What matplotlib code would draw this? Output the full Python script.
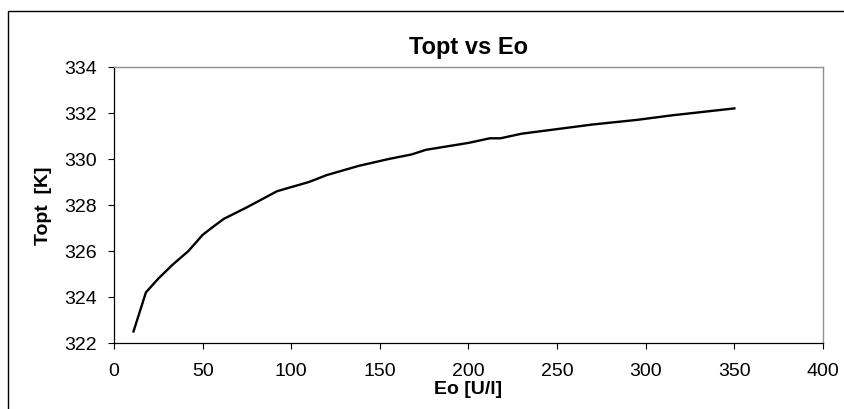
import matplotlib.pyplot as plt
from matplotlib.patches import Rectangle

plt.rcParams['font.family'] = ['Liberation Sans', 'DejaVu Sans']

# data
eo = [11, 18, 25, 33, 42, 50, 55, 62, 75, 92, 110, 120, 138, 155, 168, 176,
      200, 212, 218, 230, 250, 270, 295, 315, 350]
topt = [322.5, 324.2, 324.8, 325.4, 326.0, 326.7, 327.0, 327.4, 327.9, 328.6,
        329.0, 329.3, 329.7, 330.0, 330.2, 330.4, 330.7, 330.9, 330.9, 331.1,
        331.3, 331.5, 331.7, 331.9, 332.2]
xticks = [0, 50, 100, 150, 200, 250, 300, 350, 400]
yticks = [322, 324, 326, 328, 330, 332, 334]

W, H = 845, 410
fig = plt.figure(figsize=(W / 100, H / 100), dpi=100)
# outer chart border (runs off the right and bottom edges)
fig.patches.append(Rectangle((8 / W, -0.1), 1.0, 1 - 12 / H + 0.1,
                             transform=fig.transFigure, fill=False,
                             edgecolor='black', linewidth=1.0))

ax = fig.add_axes([114 / W, 1 - 344 / H, 709 / W, 276 / H])
ax.plot(eo, topt, color='black', linewidth=1.7)

ax.set_xlim(0, 400)
ax.set_ylim(322, 334)
ax.set_xticks(xticks)
ax.set_yticks(yticks)
ax.tick_params(direction='out', length=4, width=0.8, labelsize=14)
ax.tick_params(axis='y', pad=8)
ax.tick_params(axis='x', pad=10)
for s in ['top', 'right']:
    ax.spines[s].set_color('#909090')
    ax.spines[s].set_linewidth(1.0)
for s in ['left', 'bottom']:
    ax.spines[s].set_color('black')
    ax.spines[s].set_linewidth(0.9)

ax.set_title('Topt vs Eo', fontsize=17, fontweight='bold', pad=10)
ax.set_xlabel('Eo [U/l]', fontsize=14, fontweight='bold', va='center')
ax.xaxis.set_label_coords(0.5, (344 - 390) / 276)
ax.set_ylabel('Topt  [K]', fontsize=14, fontweight='bold', va='center')
ax.yaxis.set_label_coords((43 - 114) / 709, 0.5)

fig.savefig('out.png', dpi=100)
